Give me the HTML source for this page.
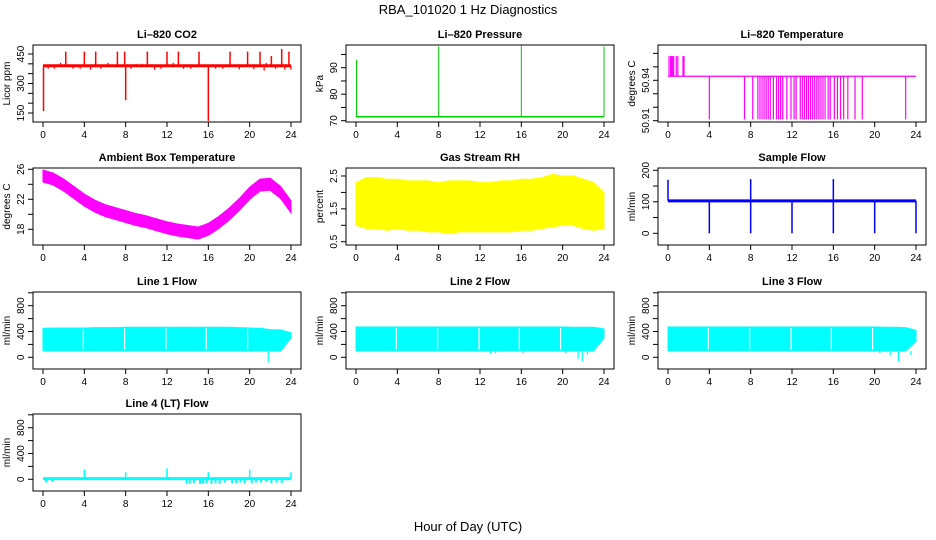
<!DOCTYPE html>
<html><head><meta charset="utf-8">
<style>
html,body{margin:0;padding:0;background:#fff;}
svg{display:block;font-family:"Liberation Sans",Arial,sans-serif;}
</style></head>
<body>
<svg id="chart" width="936" height="540" viewBox="0 0 936 540" xmlns="http://www.w3.org/2000/svg">
<text x="468" y="14" text-anchor="middle" font-size="13">RBA_101020  1 Hz Diagnostics</text>
<text x="468" y="531" text-anchor="middle" font-size="13">Hour of Day (UTC)</text>
</svg>
<script>
// ---- data (hour of day) ----
const HOURS = [0,1,2,3,4,5,6,7,8,9,10,11,12,13,14,15,16,17,18,19,20,21,22,23,24];
const X_TICKS = [0,4,8,12,16,20,24];

const co2Base = 390;
const co2SpikeHours = [0.05,2.2,4.0,5.1,7.2,7.9,8.0,10.1,12.0,13.1,15.1,16.0,18.1,19.8,21.0,22.1,23.1,23.8];
const co2SpikeVals  = [160,462,462,462,462,462,215,462,462,462,462,110,462,462,462,440,475,462];
const co2NoiseHours = [0.5,1.1,1.7,2.9,3.6,4.6,5.6,6.3,8.5,9.0,9.6,10.8,11.4,12.6,13.6,14.3,16.7,17.4,19.0,20.4,21.4,21.6,22.5,23.4,24.0];
const co2NoiseVals  = [375,375,405,375,375,370,375,405,375,400,400,370,375,405,375,375,375,375,372,372,365,405,375,370,370];

const presBase = 71.5;
const presSpikeHours = [0.05,8.0,16.0,24.0];
const presSpikeVals  = [93,98,98.5,98];

const tempBase = 50.943;
const tempUpHours = [0.1,0.25,0.35,0.45,0.55,0.8,0.95,1.45,1.55];
const tempDownHours = [4.0,7.4,8.2,8.7,8.9,9.1,9.3,9.5,9.7,9.9,10.2,10.5,10.7,10.9,11.1,11.5,11.9,12.2,12.4,12.8,13.0,13.2,13.4,13.6,13.8,14.0,14.2,14.4,14.6,14.8,15.0,15.2,15.5,15.7,16.1,16.4,16.7,17.0,17.4,18.1,18.8,23.0];
const tempUpVal = 50.958, tempDownVal = 50.911;

const ambMid = [25.1,24.7,23.9,22.9,21.9,21.1,20.5,20.1,19.7,19.3,19.0,18.6,18.2,17.9,17.7,17.5,18.0,18.9,20.0,21.3,22.8,23.9,24.0,22.9,21.0];
const ambHalf = 0.8;

const rhLo = [1.0,0.9,0.9,0.85,0.9,0.85,0.85,0.8,0.8,0.75,0.8,0.8,0.8,0.8,0.8,0.8,0.85,0.85,0.9,0.95,1.0,1.0,0.9,0.85,0.9];
const rhHi = [2.3,2.45,2.45,2.4,2.4,2.35,2.35,2.35,2.3,2.35,2.35,2.35,2.3,2.3,2.35,2.35,2.4,2.4,2.45,2.55,2.5,2.5,2.4,2.3,2.0];

const sampleBase = 103;
const sampleDipHours = [4.0,8.0,12.0,16.0,20.0,24.0];
const sampleDipVals  = [0,0,0,0,0,0];
const sampleSpikeHours = [0.0,8.0,16.0];
const sampleSpikeVals  = [170,172,172];

const line1Hi = [450,455,455,455,455,460,460,460,465,465,465,465,465,465,465,465,465,465,465,460,455,450,430,425,380];
const line1Lo = [100,100,100,100,100,100,100,100,100,100,100,100,100,100,100,100,100,100,100,100,100,100,100,100,300];
const line1DipHours = [21.8];
const line1DipVals  = [-80];
const line2Hi = [470,470,470,470,470,470,470,470,470,470,470,470,470,470,470,470,470,470,470,470,470,465,465,465,440];
const line2Lo = [100,100,100,100,100,100,100,100,100,100,100,100,100,100,100,100,100,100,100,100,100,100,100,100,300];
const line2DipHours = [13.0,13.5,16.2,20.3,21.5,21.9,22.4];
const line2DipVals  = [50,60,60,60,-20,-60,40];
const line3Hi = [470,470,470,470,470,470,470,470,470,470,470,470,470,470,470,470,470,470,470,470,470,465,465,460,420];
const line3Lo = [100,100,100,100,100,100,100,100,100,100,100,100,100,100,100,100,100,100,100,100,100,100,100,100,250];
const line3DipHours = [20.5,21.5,22.3,23.5];
const line3DipVals  = [60,30,-60,40];
const flowGapHours = [3.9,7.9,11.9,15.8,19.8];

const line4Base = 10;
const line4SpikeHours = [4.0,8.0,12.0,16.0,20.0,24.0];
const line4SpikeVals  = [150,110,170,110,150,110];
const line4NegHours = [0.3,0.9,13.9,14.2,14.6,15.2,15.5,15.8,16.3,16.7,17.1,17.6,18.3,18.7,19.1,19.5,20.2,20.6,21.1,21.6,22.1,22.6,23.1];
const line4NegVals  = [-50,-40,-70,-70,-60,-70,-70,-60,-70,-60,-70,-50,-60,-60,-50,-60,-60,-50,-50,-40,-60,-50,-60];

// ---- layout ----
const NS = "http://www.w3.org/2000/svg";
const svg = document.getElementById('chart');
const COLS = [33,346,658], ROWS = [45,168,292,414], W = 268, H = 77;
function mk(tag, attrs, parent){const e=document.createElementNS(NS,tag);for(const k in attrs)e.setAttribute(k,attrs[k]);(parent||svg).appendChild(e);return e;}

function panel(name, col, row, title, ylab, yref, yticks, ylabels){
  const L=COLS[col], T=ROWS[row], B=T+H;
  const g = mk('g',{});
  
  
  const xs = h => L + 10 + h*(W-20)/24;
  const ys = v => yref[1] + (v-yref[0])*(yref[3]-yref[1])/(yref[2]-yref[0]);
  const t = mk('text',{x:L+W/2,y:T-7,'text-anchor':'middle','font-size':11,'font-weight':'bold'},g);
  t.textContent = title;
  
  
  const plot = mk('g',{},g);
  
  
  const box = mk('rect',{x:L,y:T,width:W,height:H,fill:'none',stroke:'#000','stroke-width':1},g);
  
  
  X_TICKS.forEach(h=>{
    mk('line',{x1:xs(h),x2:xs(h),y1:B,y2:B+5,stroke:'#000'},g);
    const tl = mk('text',{x:xs(h),y:B+16,'text-anchor':'middle','font-size':10},g);
    tl.textContent = h;
    
    
  });
  yticks.forEach(v=>{ mk('line',{x1:L-5,x2:L,y1:ys(v),y2:ys(v),stroke:'#000'},g); });
  ylabels.forEach(v=>{
    const yl = mk('text',{x:0,y:0,'text-anchor':'middle','font-size':10,transform:`translate(${L-9},${ys(v)}) rotate(-90)`},g);
    yl.textContent = v;
    
    
  });
  const yt = mk('text',{x:0,y:0,'text-anchor':'middle','font-size':10,transform:`translate(${L-23},${T+H/2}) rotate(-90)`},g);
  yt.textContent = ylab;
  
  
  return {xs, ys, plot, L, T, B};
}
function vline(p, h, v1, v2, color, w){
  const l = mk('line',{x1:p.xs(h),x2:p.xs(h),y1:p.ys(v1),y2:p.ys(v2),stroke:color,'stroke-width':w||1.2},p.plot);
  
  
}
function hline(p, v, color, w){
  const l = mk('line',{x1:p.xs(0),x2:p.xs(24),y1:p.ys(v),y2:p.ys(v),stroke:color,'stroke-width':w||2},p.plot);
  
  
}
function band(p, lo, hi, color){
  let d='';
  HOURS.forEach((h,i)=>{ d += (i?'L':'M')+p.xs(h)+','+p.ys(hi[i]); });
  for(let i=HOURS.length-1;i>=0;i--) d += 'L'+p.xs(HOURS[i])+','+p.ys(lo[i]);
  const e = mk('path',{d:d+'Z',fill:color,stroke:color,'stroke-width':1},p.plot);
  
  
}
function gaps(p, lo, hi){
  flowGapHours.forEach(h=>{
    const i=Math.round(h);
    const l = mk('line',{x1:p.xs(h),x2:p.xs(h),y1:p.ys(lo[i])-1,y2:p.ys(hi[i])+1,stroke:'#fff','stroke-width':1.2},p.plot);
    
    
  });
}

// Li-820 CO2
let p = panel('co2-panel',0,0,'Li\u2013820 CO2','Licor ppm',[150,113,450,54],[150,200,250,300,350,400,450],[150,300,450]);
hline(p, co2Base, '#ff0000', 3);
co2NoiseHours.forEach((h,i)=>vline(p,h,co2Base,co2NoiseVals[i],'#ff0000',1.2));
co2SpikeHours.forEach((h,i)=>vline(p,h,co2Base,co2SpikeVals[i],'#ff0000',1.5));

// Pressure
p = panel('pressure-panel',1,0,'Li\u2013820 Pressure','kPa',[70,120.7,90,67.7],[70,75,80,85,90,95],[70,80,90]);
hline(p, presBase, '#00cc00', 1.5);
presSpikeHours.forEach((h,i)=>vline(p,h,presBase,presSpikeVals[i],'#00cc00',1));

// Temperature
p = panel('temperature-panel',2,0,'Li\u2013820 Temperature','degrees C',[50.91,120.7,50.94,80.3],[50.91,50.92,50.93,50.94,50.95,50.96],[50.91,50.94]);
hline(p, tempBase, '#ff00ff', 1.2);
tempUpHours.forEach(h=>vline(p,h,tempBase,tempUpVal,'#ff00ff',1.2));
tempDownHours.forEach(h=>vline(p,h,tempBase,tempDownVal,'#ff00ff',1.2));

// Ambient
p = panel('ambient-temp-panel',0,1,'Ambient Box Temperature','degrees C',[18,229.3,26,169.3],[18,20,22,24,26],[18,22,26]);
band(p, ambMid.map(v=>v-ambHalf), ambMid.map(v=>v+ambHalf), '#ff00ff');

// RH
p = panel('rh-panel',1,1,'Gas Stream RH','percent',[0.5,241.7,2.5,176],[0.5,1,1.5,2,2.5],[0.5,1.5,2.5]);
band(p, rhLo, rhHi, '#ffff00');

// Sample flow
p = panel('sample-flow-panel',2,1,'Sample Flow','ml/min',[0,233.3,200,170.3],[0,50,100,150,200],[0,100,200]);
hline(p, sampleBase, '#0000ff', 3);
sampleDipHours.forEach((h,i)=>vline(p,h,sampleBase,sampleDipVals[i],'#0000ff',1.5));
sampleSpikeHours.forEach((h,i)=>vline(p,h,sampleBase,sampleSpikeVals[i],'#0000ff',1.5));

// Line flows
const flowRef = [0,65.3,800,13.7];
function flowPanel(name,col,row,title,lo,hi,dipH,dipV){
  const T=ROWS[row];
  const q = panel(name,col,row,title,'ml/min',[0,T+flowRef[1],800,T+flowRef[3]],[0,200,400,600,800,1000],[0,400,800]);
  band(q, lo, hi, '#00ffff');
  gaps(q, lo, hi);
  dipH.forEach((h,i)=>vline(q,h,100,dipV[i],'#00ffff',1.2));
  return q;
}
flowPanel('line1-flow-panel',0,2,'Line 1 Flow',line1Lo,line1Hi,line1DipHours,line1DipVals);
flowPanel('line2-flow-panel',1,2,'Line 2 Flow',line2Lo,line2Hi,line2DipHours,line2DipVals);
flowPanel('line3-flow-panel',2,2,'Line 3 Flow',line3Lo,line3Hi,line3DipHours,line3DipVals);

p = panel('line4-flow-panel',0,3,'Line 4 (LT) Flow','ml/min',[0,ROWS[3]+flowRef[1],800,ROWS[3]+flowRef[3]],[0,200,400,600,800,1000],[0,400,800]);
hline(p, line4Base, '#00ffff', 3);
line4SpikeHours.forEach((h,i)=>vline(p,h,line4Base,line4SpikeVals[i],'#00ffff',1.5));
line4NegHours.forEach((h,i)=>vline(p,h,line4Base,line4NegVals[i],'#00ffff',2));
</script>
</body></html>
